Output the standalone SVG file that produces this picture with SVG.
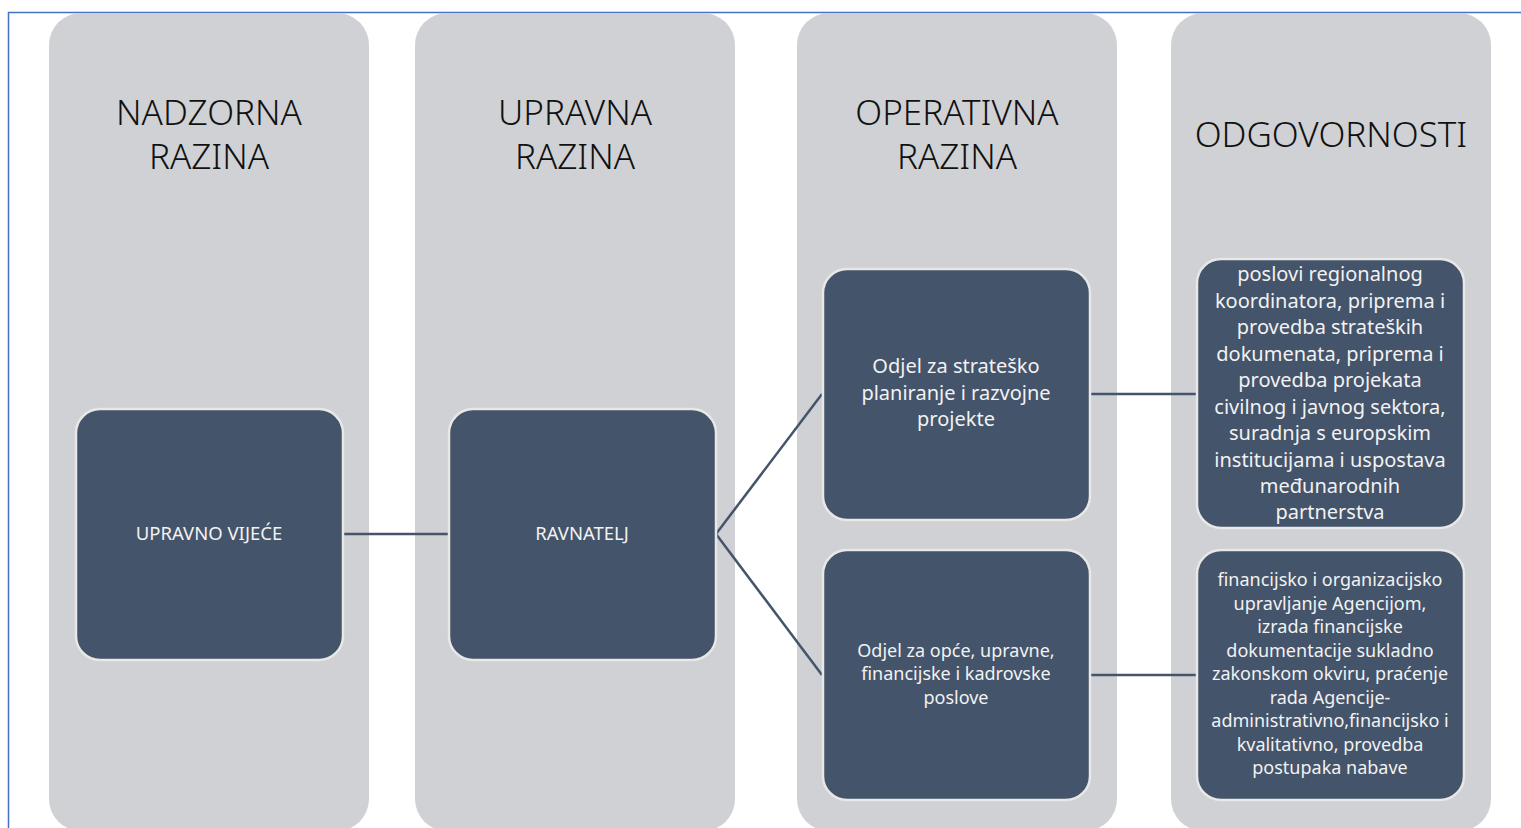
<svg xmlns="http://www.w3.org/2000/svg" width="1521" height="828" viewBox="0 0 1521 828">
<style>
.col{fill:#d0d1d5}
.node{fill:#44546a;stroke:#e8e8e8;stroke-width:2.5}
.hdr{font-family:"Noto Sans","Open Sans",sans-serif;font-size:35px;fill:#111;text-anchor:middle;font-weight:300}
.t{font-family:"Noto Sans","Open Sans",sans-serif;fill:#f2f2f2;text-anchor:middle}
.con{stroke:#44546a;stroke-width:2.5;fill:none}
</style>
<rect width="1521" height="828" fill="#fff"/>
<path d="M8.5,828 V12.5 H1521" fill="none" stroke="#4472c4" stroke-width="1.5"/>
<g id="col1"><rect class="col" x="49" y="13" width="320" height="818" rx="32"/>
<text class="hdr" x="209" y="125">NADZORNA</text><text class="hdr" x="209" y="169">RAZINA</text></g>
<g id="col2"><rect class="col" x="415" y="13" width="320" height="818" rx="32"/>
<text class="hdr" x="575" y="125">UPRAVNA</text><text class="hdr" x="575" y="169">RAZINA</text></g>
<g id="col3"><rect class="col" x="797" y="13" width="320" height="818" rx="32"/>
<text class="hdr" x="957" y="125">OPERATIVNA</text><text class="hdr" x="957" y="169">RAZINA</text></g>
<g id="col4"><rect class="col" x="1171" y="13" width="320" height="818" rx="32"/>
<text class="hdr" x="1331" y="147">ODGOVORNOSTI</text></g>
<g id="connectors">
<line class="con" x1="343" y1="534" x2="449" y2="534"/>
<line class="con" x1="716" y1="534" x2="822" y2="394"/>
<line class="con" x1="716" y1="534" x2="822" y2="675"/>
<line class="con" x1="1090" y1="394" x2="1196" y2="394"/>
<line class="con" x1="1090" y1="675" x2="1196" y2="675"/>
</g>
<g id="n-vijece"><rect class="node" x="76" y="409" width="267" height="251" rx="24"/>
<text class="t" x="209" y="540" font-size="18.5">UPRAVNO VIJEĆE</text></g>
<g id="n-ravnatelj"><rect class="node" x="449" y="409" width="267" height="251" rx="24"/>
<text class="t" x="582" y="540" font-size="18.5">RAVNATELJ</text></g>
<g id="n-odjel1"><rect class="node" x="823" y="269" width="267" height="251" rx="24"/>
<text class="t" font-size="20"><tspan x="956" y="373">Odjel za strateško</tspan><tspan x="956" y="400">planiranje i razvojne</tspan><tspan x="956" y="426">projekte</tspan></text></g>
<g id="n-odjel2"><rect class="node" x="823" y="550" width="267" height="250" rx="24"/>
<text class="t" font-size="18"><tspan x="956" y="657">Odjel za opće, upravne,</tspan><tspan x="956" y="680">financijske i kadrovske</tspan><tspan x="956" y="704">poslove</tspan></text></g>
<g id="n-odg1"><rect class="node" x="1197" y="259" width="267" height="269" rx="24"/>
<text class="t" font-size="20"><tspan x="1330" y="281">poslovi regionalnog</tspan><tspan x="1330" y="308">koordinatora, priprema i</tspan><tspan x="1330" y="334">provedba strateških</tspan><tspan x="1330" y="361">dokumenata, priprema i</tspan><tspan x="1330" y="387">provedba projekata</tspan><tspan x="1330" y="414">civilnog i javnog sektora,</tspan><tspan x="1330" y="440">suradnja s europskim</tspan><tspan x="1330" y="467">institucijama i uspostava</tspan><tspan x="1330" y="493">međunarodnih</tspan><tspan x="1330" y="519">partnerstva</tspan></text></g>
<g id="n-odg2"><rect class="node" x="1197" y="550" width="267" height="250" rx="24"/>
<text class="t" font-size="18"><tspan x="1330" y="586">financijsko i organizacijsko</tspan><tspan x="1330" y="610">upravljanje Agencijom,</tspan><tspan x="1330" y="633">izrada financijske</tspan><tspan x="1330" y="657">dokumentacije sukladno</tspan><tspan x="1330" y="680">zakonskom okviru, praćenje</tspan><tspan x="1330" y="704">rada Agencije-</tspan><tspan x="1330" y="727">administrativno,financijsko i</tspan><tspan x="1330" y="751">kvalitativno, provedba</tspan><tspan x="1330" y="774">postupaka nabave</tspan></text></g>
</svg>
